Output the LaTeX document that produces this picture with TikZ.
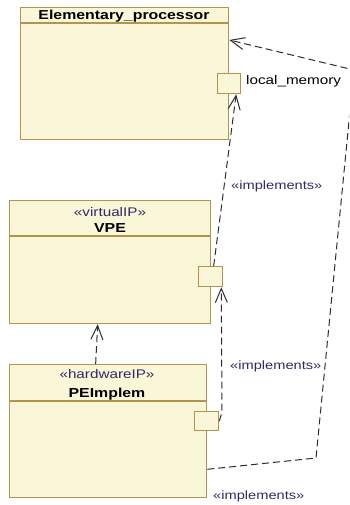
\documentclass[tikz,border=0pt]{standalone}
\usepackage{fontspec}
\setmainfont[FakeStretch=1.22]{Liberation Sans}
\usetikzlibrary{arrows.meta,calc}
\definecolor{boxfill}{RGB}{249,247,215}
\definecolor{boxline}{RGB}{178,148,78}
\definecolor{stereo}{RGB}{52,40,100}
\definecolor{depline}{RGB}{45,45,45}
\tikzset{
  cls/.style  ={draw=boxline, fill=boxfill, line width=1.3pt, anchor=north west, inner sep=0pt},
  prt/.style  ={draw=boxline, fill=boxfill, line width=1.3pt, anchor=north west, inner sep=0pt},
  hdr/.style  ={draw=boxline, line width=1.3pt},
  nm/.style   ={font=\fontsize{13}{15}\selectfont\bfseries, inner sep=0pt, anchor=base},
  st/.style   ={font=\fontsize{12.5}{15}\selectfont, text=stereo, inner sep=0pt, anchor=base},
  lab/.style  ={font=\fontsize{12.5}{15}\selectfont, inner sep=0pt, anchor=base west},
  impl/.style ={font=\fontsize{12}{14}\selectfont, text=stereo, inner sep=0pt, anchor=base west},
  dep/.style  ={draw=depline, line width=1pt, dash pattern=on 7pt off 4pt, -{Straight Barb[length=14pt,width=12pt]}},
}

\begin{document}
\begin{tikzpicture}[x=1pt,y=-1pt]
  \useasboundingbox (0,0) rectangle (349,505);
  \clip (0,0) rectangle (349,505);
  % Elementary_processor
  \node[cls, minimum width=208pt, minimum height=132pt] (ep) at (20,7) {};
  \draw[hdr] (ep.west |- 0,23) -- (ep.east |- 0,23);
  \node[nm] (eptitle) at (124,20) {Elementary\_processor};
  \node[prt, minimum width=23pt, minimum height=20pt] (lm) at (217,73) {};
  \node[lab] (lmlab) at (246,85) {local\_memory};
  % VPE
  \node[cls, minimum width=201pt, minimum height=123pt] (vpe) at (9,200) {};
  \draw[hdr] (vpe.west |- 0,236) -- (vpe.east |- 0,236);
  \node[st] (vpest) at (110,216) {«virtualIP»};
  \node[nm] (vpetitle) at (110,232) {VPE};
  \node[prt, minimum width=24pt, minimum height=20pt] (vp) at (198,266) {};
  % PEImplem
  \node[cls, minimum width=197pt, minimum height=133pt] (pe) at (9,364) {};
  \draw[hdr] (pe.west |- 0,401) -- (pe.east |- 0,401);
  \node[st] (pest) at (107,378) {«hardwareIP»};
  \node[nm] (petitle) at (107,397) {PEImplem};
  \node[prt, minimum width=24pt, minimum height=19pt] (pp) at (194,411) {};
  % dependencies
  \coordinate (bend) at (222,412);
  \coordinate (c1) at (316,458);
  \coordinate (c2) at (354,70);
  \draw[dep] ([xshift=3pt]vp.north) -- ([xshift=7pt]lm.south);
  \draw[dep] (pp.east) -- (bend) -- ([xshift=-2pt]vp.south east);
  \draw[dep] ([xshift=-12.5pt]pe.north) -- ([xshift=-12.5pt]vpe.south);
  \draw[dep] ([yshift=29pt]pe.south east) -- (c1) -- (c2) -- ([yshift=-33pt]ep.north east);
  \node[impl] (im1) at (231,189) {«implements»};
  \node[impl] (im2) at (230,369) {«implements»};
  \node[impl] (im3) at (213,499) {«implements»};
\end{tikzpicture}
\end{document}
